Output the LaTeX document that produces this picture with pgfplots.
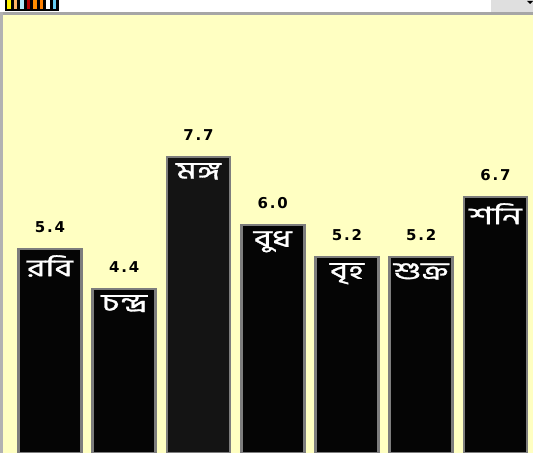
\documentclass[border=0pt]{standalone}
\usepackage{fontspec}
\usepackage{pgfplots}
\usepackage{pgfplotstable}
\pgfplotsset{compat=1.18}
\setmainfont{DejaVu Sans}
\newfontfamily\bnfont[Script=Bengali, FakeStretch=1.45, FakeBold=1.2]{Hind Siliguri}
\newfontfamily\valfont[LetterSpace=12]{DejaVu Sans}
\definecolor{bgyellow}{RGB}{255,255,194}
\definecolor{barborder}{RGB}{125,125,125}
\pgfplotstableread{
x y val lab
0 5.4 5.4 রবি
1 4.4 4.4 চন্দ্র
2 7.7 7.7 মঙ্গ
3 6.0 6.0 বুধ
4 5.2 5.2 বৃহ
5 5.2 5.2 শুক্র
6 6.7 6.7 শনি
}\datatable
\begin{document}
\begin{tikzpicture}
\begin{axis}[
  at={(0,0)}, anchor=south west,
  scale only axis, width=533bp, height=439bp,
  xmin=-0.673, xmax=6.505, ymin=0.3, ymax=11.275,
  hide axis,
  axis background/.style={fill=bgyellow},
  clip=true,
]
\addplot[ybar, bar width=63bp, bar shift=0pt, fill=black!98, draw=barborder, line width=2.6bp,
  point meta=explicit symbolic,
  nodes near coords,
  every node near coord/.style={anchor=south, inner sep=0pt, yshift=15bp, font=\valfont\bfseries\fontsize{15}{17}\selectfont, text=black}]
  table[x=x, y=y, meta=val] {\datatable};
\addplot[ybar, bar width=63bp, bar shift=0pt, fill=black!92, draw=barborder, line width=2.6bp]
  coordinates {(2,7.7)};
\addplot[ybar, bar width=63bp, bar shift=0pt, draw=none, fill=none,
  point meta=explicit symbolic,
  nodes near coords,
  every node near coord/.style={anchor=north, inner sep=0pt, yshift=-6bp, font=\bnfont\fontsize{24}{26}\selectfont, text=white}]
  table[x=x, y=y, meta=lab] {\datatable};
\end{axis}
% window chrome
\fill[white] (0,439bp) rectangle (533bp,453bp);
\fill[gray!70] (0,438bp) rectangle (533bp,441bp);
\fill[gray!60] (0,0) rectangle (2.5bp,441bp);
\fill[gray!25] (491bp,441bp) rectangle (533bp,453bp);
\fill[black] (527bp,452bp) -- (533bp,452bp) -- (530bp,449bp) -- cycle;
\fill[black] (5bp,441.5bp) rectangle (59bp,453bp);
\foreach \c [count=\i] in {yellow, orange!60, cyan!30, red!70!black, orange!90!yellow, orange, white, cyan!60}{
  \fill[\c] ({5bp+6.5bp*\i-4.5bp},444bp) rectangle ({5bp+6.5bp*\i-1bp},453bp);
}
\end{tikzpicture}
\end{document}
